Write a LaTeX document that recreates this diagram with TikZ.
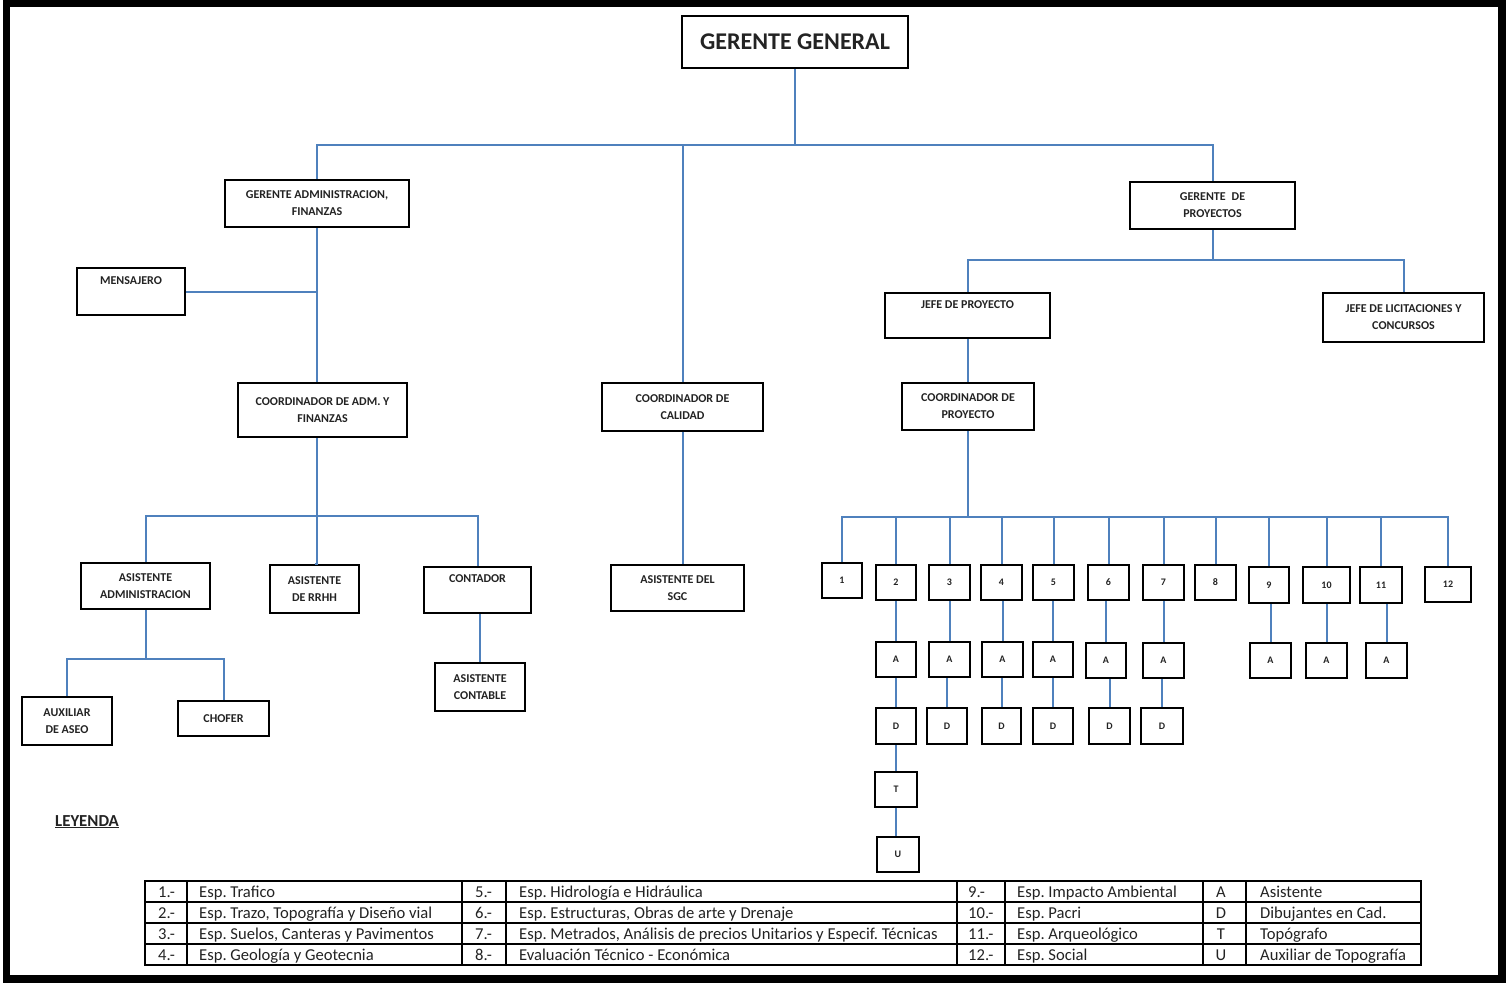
\documentclass[tikz,border=0pt]{standalone}
\usepackage{fontspec}
\setmainfont{Carlito}
\frenchspacing
\definecolor{lineblue}{RGB}{79,129,189}
\definecolor{txt}{RGB}{35,35,35}
\newcommand\obox[7][box]{\node[#1,minimum width={(#5-#3)*1pt},minimum height={(#6-#4)*1pt}] (#2) at ({(#3+#5)/2},{(#4+#6)/2}) {#7};}
\tikzset{
  box/.style={draw=black, line width=2pt, fill=white, inner sep=0pt, align=center, text=txt,
    font=\bfseries\fontsize{12}{17}\selectfont},
  bigbox/.style={box, font=\bfseries\fontsize{24}{28}\selectfont},
  smallbox/.style={box, font=\bfseries\fontsize{10}{12}\selectfont},
  conn/.style={draw=lineblue, line width=2pt},
  cell/.style={anchor=base west, inner sep=0pt, text=txt, font=\fontsize{16.6}{18}\selectfont},
  cellc/.style={cell, anchor=base},
  tline/.style={draw=black, line width=1.5pt},
}
\begin{document}
\begin{tikzpicture}[x=1pt,y=-1pt]
\useasboundingbox (0,0) rectangle (1506,985);
\fill[white] (0,0) rectangle (1506,985);
\fill[black] (3,0) rectangle (1506,983);
\fill[white] (10,7) rectangle (1498,975);

% main boxes
\obox[bigbox]{gg}{682}{16}{908}{68}{GERENTE GENERAL}
\obox{gaf}{225}{180}{409}{227}{GERENTE ADMINISTRACION,\\FINANZAS}
\obox{mens}{77}{268}{185}{315}{MENSAJERO\\\strut}
\obox{cadm}{238}{383}{407}{437}{COORDINADOR DE ADM. Y\\FINANZAS}
\obox{cc}{602}{383}{763}{431}{COORDINADOR DE\\CALIDAD}
\obox{gp}{1130}{182}{1295}{229}{GERENTE\enspace DE\\PROYECTOS}
\obox{jp}{885}{293}{1050}{338}{JEFE DE PROYECTO\\\strut}
\obox{jl}{1323}{293}{1484}{342}{JEFE DE LICITACIONES Y\\CONCURSOS}
\obox{cp}{902}{383}{1034}{430}{COORDINADOR DE\\PROYECTO}
\obox{aa}{81}{563}{210}{609}{ASISTENTE\\ADMINISTRACION}
\obox{rrhh}{270}{565}{359}{613}{ASISTENTE\\DE RRHH}
\obox{cont}{424}{567}{531}{613}{CONTADOR\\\strut}
\obox{acont}{435}{663}{525}{711}{ASISTENTE\\CONTABLE}
\obox{aux}{22}{697}{112}{745}{AUXILIAR\\DE ASEO}
\obox{chof}{178}{701}{269}{736}{CHOFER}
\obox{sgc}{611}{565}{744}{611}{ASISTENTE DEL\\SGC}

% numbered specialists
\obox[smallbox]{n1}{822}{563}{862}{598}{1}
\obox[smallbox]{n2}{876}{565}{916}{600}{2}
\obox[smallbox]{n3}{929}{565}{970}{600}{3}
\obox[smallbox]{n4}{981}{565}{1022}{600}{4}
\obox[smallbox]{n5}{1033}{565}{1074}{600}{5}
\obox[smallbox]{n6}{1088}{565}{1129}{600}{6}
\obox[smallbox]{n7}{1143}{565}{1184}{600}{7}
\obox[smallbox]{n8}{1195}{565}{1236}{600}{8}
\obox[smallbox]{n9}{1249}{567}{1289}{603}{9}
\obox[smallbox]{n10}{1303}{567}{1350}{603}{10}
\obox[smallbox]{n11}{1360}{567}{1402}{603}{11}
\obox[smallbox]{n12}{1425}{567}{1471}{602}{12}

\obox[smallbox]{a2}{876}{642}{916}{677}{A}
\obox[smallbox]{a3}{929}{642}{970}{677}{A}
\obox[smallbox]{a4}{982}{642}{1023}{677}{A}
\obox[smallbox]{a5}{1033}{642}{1073}{677}{A}
\obox[smallbox]{a6}{1086}{643}{1126}{678}{A}
\obox[smallbox]{a7}{1143}{643}{1184}{678}{A}
\obox[smallbox]{a9}{1250}{643}{1291}{678}{A}
\obox[smallbox]{a10}{1306}{643}{1347}{678}{A}
\obox[smallbox]{a11}{1366}{643}{1407}{678}{A}

\obox[smallbox]{d2}{876}{708}{916}{744}{D}
\obox[smallbox]{d3}{927}{708}{967}{744}{D}
\obox[smallbox]{d4}{982}{708}{1021}{744}{D}
\obox[smallbox]{d5}{1033}{708}{1073}{744}{D}
\obox[smallbox]{d6}{1089}{708}{1130}{744}{D}
\obox[smallbox]{d7}{1141}{708}{1183}{744}{D}

\obox[smallbox]{t}{875}{772}{917}{807}{T}
\obox[smallbox]{u}{877}{837}{919}{872}{U}

% bus coordinates
\coordinate (bus1) at (0,145);
\coordinate (bus2) at (0,516);
\coordinate (bus3) at (0,659);
\coordinate (bus4) at (0,260);
\coordinate (bus5) at (0,517);

% connectors
\draw[conn] (gg.south) -- (gg.south |- bus1);
\draw[conn] (gaf.north) -- (gaf.north |- bus1) -- (gp.north |- bus1) -- (gp.north);
\draw[conn] (cc.north) -- (cc.north |- bus1);
\draw[conn] (gaf.south) -- (gaf.south |- cadm.north);
\draw[conn] (mens.east) -- (gaf.south |- mens.east);
\draw[conn] (gaf.south |- cadm.south) -- (gaf.south |- bus2);
\draw[conn] (aa.north) -- (aa.north |- bus2) -- (cont.north |- bus2) -- (cont.north);
\draw[conn] (rrhh.north) -- (gaf.south |- rrhh.north) -- (gaf.south |- bus2);
\draw[conn] (aa.south) -- (aa.south |- bus3);
\draw[conn] (aux.north) -- (aux.north |- bus3) -- (chof.north |- bus3) -- (chof.north);
\draw[conn] (acont.north) -- (acont.north |- cont.south);
\draw[conn] (cc.south) -- (cc.south |- sgc.north);
\draw[conn] (gp.south) -- (gp.south |- bus4);
\draw[conn] (jp.north) -- (jp.north |- bus4) -- (jl.north |- bus4) -- (jl.north);
\draw[conn] (jp.south) -- (jp.south |- cp.north);
\draw[conn] (cp.south) -- (cp.south |- bus5);
\draw[conn] (n1.north) -- (n1.north |- bus5) -- (n12.north |- bus5) -- (n12.north);
\foreach \i in {2,...,11} {\draw[conn] (n\i.north) -- (n\i.north |- bus5);}
\foreach \i in {2,3,4,5,6,7,9,10,11} {\draw[conn] (a\i.north) -- (a\i.north |- n\i.south);}
\foreach \i in {2,3,4,5,6,7} {\draw[conn] (d\i.north) -- (d\i.north |- a\i.south);}
\draw[conn] (t.north) -- (t.north |- d2.south);
\draw[conn] (t.south) -- (t.south |- u.north);

% legend
\node[anchor=base west, inner sep=0pt, text=txt, font=\bfseries\fontsize{16.8}{19}\selectfont] (ley) at (55,826) {\underline{LEYENDA}};

\draw[tline] (145,881) rectangle (1421,965);
\foreach \yy in {902,923,944} {\draw[tline] (145,\yy) -- (1421,\yy);}
\foreach \xx in {187,462,506,957,1005,1203,1246} {\draw[tline] (\xx,881) -- (\xx,965);}

% row 1
\node[cell] (c11) at (158,897) {1.-};
\node[cell] (c12) at (199,897) {Esp. Trafico};
\node[cell] (c13) at (475,897) {5.-};
\node[cell] (c14) at (519,897) {Esp. Hidrología e Hidráulica};
\node[cell] (c15) at (968,897) {9.-};
\node[cell] (c16) at (1017,897) {Esp. Impacto Ambiental};
\node[cellc] (c17) at (1221,897) {A};
\node[cell] (c18) at (1260,897) {Asistente};
% row 2
\node[cell] (c21) at (158,918) {2.-};
\node[cell] (c22) at (199,918) {Esp. Trazo, Topografía y Diseño vial};
\node[cell] (c23) at (475,918) {6.-};
\node[cell] (c24) at (519,918) {Esp. Estructuras, Obras de arte y Drenaje};
\node[cell] (c25) at (968,918) {10.-};
\node[cell] (c26) at (1017,918) {Esp. Pacri};
\node[cellc] (c27) at (1221,918) {D};
\node[cell] (c28) at (1260,918) {Dibujantes en Cad.};
% row 3
\node[cell] (c31) at (158,939) {3.-};
\node[cell] (c32) at (199,939) {Esp. Suelos, Canteras y Pavimentos};
\node[cell] (c33) at (475,939) {7.-};
\node[cell] (c34) at (519,939) {Esp. Metrados, Análisis de precios Unitarios y Especif. Técnicas};
\node[cell] (c35) at (968,939) {11.-};
\node[cell] (c36) at (1017,939) {Esp. Arqueológico};
\node[cellc] (c37) at (1221,939) {T};
\node[cell] (c38) at (1260,939) {Topógrafo};
% row 4
\node[cell] (c41) at (158,960) {4.-};
\node[cell] (c42) at (199,960) {Esp. Geología y Geotecnia};
\node[cell] (c43) at (475,960) {8.-};
\node[cell] (c44) at (519,960) {Evaluación Técnico - Económica};
\node[cell] (c45) at (968,960) {12.-};
\node[cell] (c46) at (1017,960) {Esp. Social};
\node[cellc] (c47) at (1221,960) {U};
\node[cell] (c48) at (1260,960) {Auxiliar de Topografía};
\end{tikzpicture}
\end{document}
